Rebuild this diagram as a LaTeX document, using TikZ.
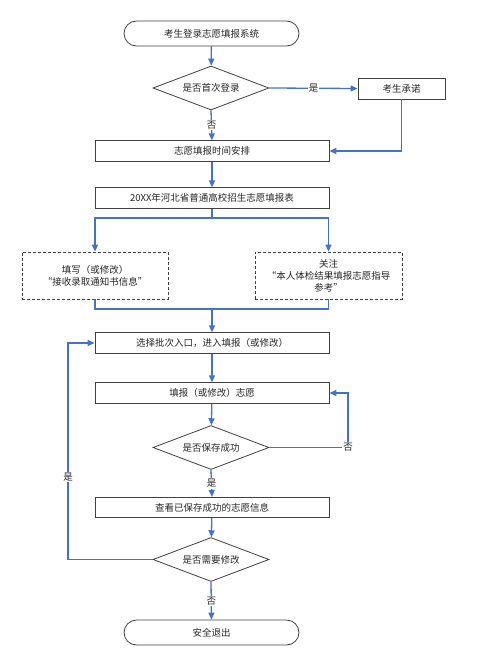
\documentclass[tikz,border=0pt]{standalone}
\usepackage{fontspec}
\setmainfont{Noto Sans CJK SC}
\usetikzlibrary{shapes.geometric,arrows.meta,calc}
\definecolor{lineblue}{HTML}{4472C4}
\definecolor{edgegray}{HTML}{404040}
\tikzset{
  base/.style={draw=edgegray, line width=0.8pt, font=\fontsize{9.5pt}{12pt}\selectfont, text=black!85, inner sep=0pt, align=center},
  term/.style={base, rounded corners=12.5pt, minimum width=175pt, minimum height=25pt},
  proc/.style={base, minimum width=234pt, minimum height=20.5pt},
  dec/.style={base, diamond, shape aspect=2.6, minimum width=116pt, minimum height=44pt},
  note/.style={base, dashed, dash pattern=on 3pt off 2pt, minimum width=146pt, minimum height=47pt},
  conn/.style={draw=lineblue, line width=1.3pt},
  arr/.style={conn, -{Triangle[width=6pt,length=7pt]}},
  lab/.style={fill=white, inner sep=1pt, font=\fontsize{9.5pt}{12pt}\selectfont, text=black!85}
}
\begin{document}
\begin{tikzpicture}[x=1pt,y=-1pt]
\useasboundingbox (0,0) rectangle (478,666);
\node[term] (start) at (211.5,33.5) {考生登录志愿填报系统};
\node[dec] (d1) at (211,88) {是否首次登录};
\node[base, minimum width=87pt, minimum height=21pt] (promise) at (401.5,88.5) {考生承诺};
\node[proc] (time) at (212,151) {志愿填报时间安排};
\node[proc] (table) at (212,198) {20XX年河北省普通高校招生志愿填报表};
\node[note] (left) at (95,275.5) {填写（或修改）\\“接收录取通知书信息”};
\node[note, minimum width=147pt] (right) at (328.5,275.5) {关注\\“本人体检结果填报志愿指导\\参考”};
\node[proc] (choose) at (212,343) {选择批次入口，进入填报（或修改）};
\node[proc] (fill) at (212,393) {填报（或修改）志愿};
\node[dec] (d2) at (211,447.5) {是否保存成功};
\node[proc] (view) at (212,507.5) {查看已保存成功的志愿信息};
\node[dec] (d3) at (211,559.5) {是否需要修改};
\node[term] (end) at (211.5,632.5) {安全退出};

\coordinate (split) at (212,218);
\coordinate (merge) at (212,309);
\coordinate (c2) at (348,447.5);
\coordinate (c3) at (68,559.5);

\draw[arr] (start) -- (d1);
\draw[arr] (d1.east) -- node[lab, pos=0.5] {是} (promise.west);
\draw[arr] (d1.south) -- node[lab, pos=0.5] {否} (time.north);
\draw[arr] (promise.south) |- (time.east);
\draw[arr] (time) -- (table);
\draw[conn] (table.south) -- (split);
\draw[arr] (split) -| (left.north);
\draw[arr] (split) -| (right.north);
\draw[conn] (left.south) |- (merge);
\draw[conn] (right.south) |- (merge);
\draw[arr] (merge) -- (choose.north);
\draw[arr] (choose) -- (fill);
\draw[arr] (fill) -- (d2);
\draw[arr] (d2.east) -- (c2) |- (fill.east);
\node[lab] (no2) at (c2) {否};
\draw[arr] (d2.south) -- node[lab, pos=0.5] {是} (view.north);
\draw[arr] (view) -- (d3);
\draw[arr] (d3.west) -- (c3) |- (choose.west);
\node[lab] (yes3) at (68,477) {是};
\draw[arr] (d3.south) -- node[lab, pos=0.5] {否} (end.north);
\end{tikzpicture}
\end{document}
